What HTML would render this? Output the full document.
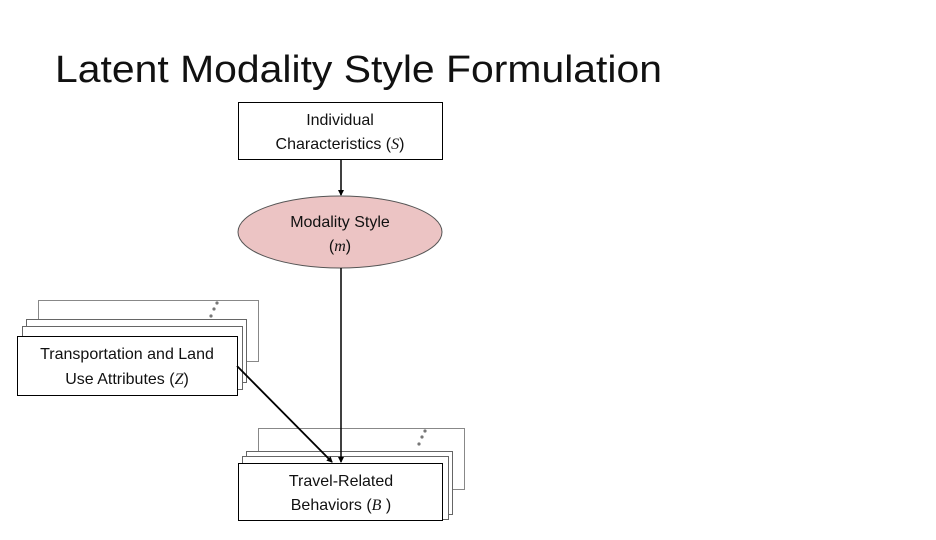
<!DOCTYPE html>
<html><head><meta charset="utf-8"><style>
html,body{margin:0;padding:0;background:#fff;width:936px;height:540px;overflow:hidden}
svg{display:block}
text{font-family:"Liberation Sans",sans-serif;fill:#111}
</style></head><body>
<svg width="936" height="540" viewBox="0 0 936 540" xmlns="http://www.w3.org/2000/svg">
<defs><marker id="a" markerWidth="6" markerHeight="6" refX="5" refY="3" orient="auto" markerUnits="userSpaceOnUse"><path d="M0,0 L6,3 L0,6 z" fill="#000"/></marker></defs>
<text x="55" y="82" font-size="38" textLength="607" lengthAdjust="spacingAndGlyphs">Latent Modality Style Formulation</text>

<rect x="238.5" y="102.5" width="204" height="57" fill="#fff" stroke="#000"/>
<text x="340" y="125" font-size="16" text-anchor="middle">Individual</text>
<text x="340" y="149" font-size="16" text-anchor="middle">Characteristics  (<tspan font-family="Liberation Serif" font-style="italic">S</tspan>)</text>

<line x1="341" y1="160" x2="341" y2="195" stroke="#000" stroke-width="1.5" marker-end="url(#a)"/>
<ellipse cx="340" cy="232" rx="102" ry="36" fill="#ecc4c4" stroke="#555" stroke-width="1"/>
<text x="340" y="227" font-size="16" text-anchor="middle" fill="#222">Modality Style</text>
<text x="340" y="251" font-size="16" text-anchor="middle">(<tspan font-family="Liberation Serif" font-style="italic">m</tspan>)</text>

<rect x="38.5" y="300.5" width="220" height="61" fill="#fff" stroke="#888"/>
<rect x="26.5" y="319.5" width="220" height="63" fill="#fff" stroke="#666"/>
<rect x="22.5" y="326.5" width="220" height="63" fill="#fff" stroke="#666"/>
<circle cx="217" cy="303" r="1.6" fill="#777"/><circle cx="214" cy="309" r="1.6" fill="#777"/><circle cx="211" cy="316" r="1.6" fill="#777"/>
<rect x="17.5" y="336.5" width="220" height="59" fill="#fff" stroke="#000"/>
<text x="127" y="359" font-size="16" text-anchor="middle">Transportation and Land</text>
<text x="127" y="384" font-size="16" text-anchor="middle">Use Attributes (<tspan font-family="Liberation Serif" font-style="italic">Z</tspan>)</text>

<rect x="258.5" y="428.5" width="206" height="61" fill="#fff" stroke="#888"/>
<rect x="246.5" y="451.5" width="206" height="63" fill="#fff" stroke="#666"/>
<rect x="242.5" y="456.5" width="206" height="63" fill="#fff" stroke="#666"/>
<circle cx="425" cy="431" r="1.6" fill="#777"/><circle cx="422" cy="437" r="1.6" fill="#777"/><circle cx="419" cy="444" r="1.6" fill="#777"/>
<rect x="238.5" y="463.5" width="204" height="57" fill="#fff" stroke="#000"/>
<text x="341" y="486" font-size="16" text-anchor="middle">Travel-Related</text>
<text x="341" y="510" font-size="16" text-anchor="middle">Behaviors (<tspan font-family="Liberation Serif" font-style="italic">B</tspan> )</text>

<line x1="341" y1="268" x2="341" y2="462" stroke="#000" stroke-width="1.5" marker-end="url(#a)"/>
<line x1="237" y1="366" x2="332" y2="462" stroke="#000" stroke-width="1.8" marker-end="url(#a)"/>
</svg>
</body></html>
